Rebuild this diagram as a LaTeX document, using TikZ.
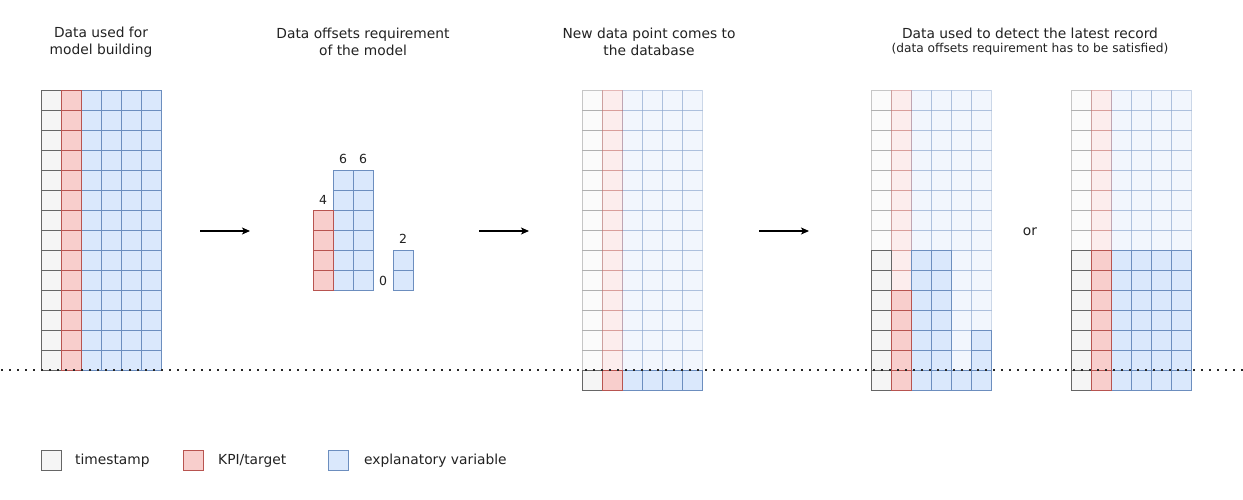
\documentclass[tikz,border=0pt]{standalone}
\usepackage{fontspec}
\setmainfont{DejaVu Sans}
\usetikzlibrary{arrows.meta}
\definecolor{tsfill}{HTML}{F5F5F5}
\definecolor{tsline}{HTML}{666666}
\definecolor{kpifill}{HTML}{F8CECC}
\definecolor{kpiline}{HTML}{B85450}
\definecolor{expfill}{HTML}{DAE8FC}
\definecolor{expline}{HTML}{6C8EBF}
\definecolor{txt}{HTML}{222222}
\tikzset{
  c0/.style={fill=tsfill,draw=tsline,line width=1pt},
  c1/.style={fill=kpifill,draw=kpiline,line width=1pt},
  c2/.style={fill=expfill,draw=expline,line width=1pt},
  c3/.style={c2}, c4/.style={c2}, c5/.style={c2},
  faded/.style={opacity=0.35},
  titletext/.style={font=\fontsize{13.8}{17.5}\selectfont, align=center, text=txt, inner sep=0pt},
  subtext/.style={font=\fontsize{12.2}{14}\selectfont, align=center, text=txt, inner sep=0pt},
  numtext/.style={font=\fontsize{12.5}{14}\selectfont, text=txt, inner sep=0pt},
  legtext/.style={font=\fontsize{13.8}{16}\selectfont, text=txt, anchor=west, inner sep=0pt},
  flow/.style={line width=1.1pt, -{Stealth[length=8pt,width=7pt,inset=2pt]}},
  baseline/.style={line width=1.4pt, draw=black!85, dash pattern=on 1.4pt off 6.6pt},
}
\begin{document}
\begin{tikzpicture}[x=1pt,y=-1pt]
\useasboundingbox[fill=white] (0,0) rectangle (1243,499);

% ---------- titles ----------
\node[titletext] (t1) at (101,42) {Data used for\\model building};
\node[titletext] (t2) at (363,42) {Data offsets requirement\\of the model};
\node[titletext] (t3) at (649,42) {New data point comes to\\the database};
\node[titletext] (t4) at (1030,33) {Data used to detect the latest record};
\node[subtext]   (t4b) at (1030,49.5) {(data offsets requirement has to be satisfied)};

% ---------- grid 1: model building ----------
\foreach \c in {0,2,3,4,5,1}{
  \foreach \r in {0,...,13}{
    \draw[c\c] ({41+20*\c},{90+20*\r}) rectangle +(20,20);
  }
}

% ---------- offsets ----------
\foreach \r in {0,...,5}{
  \draw[c2] (333,{170+20*\r}) rectangle +(20,20);
  \draw[c2] (353,{170+20*\r}) rectangle +(20,20);
}
\foreach \r in {0,...,3}{
  \draw[c1] (313,{210+20*\r}) rectangle +(20,20);
}
\foreach \r in {0,1}{
  \draw[c2] (393,{250+20*\r}) rectangle +(20,20);
}
\node[numtext] (n6a) at (343,159) {6};
\node[numtext] (n6b) at (363,159) {6};
\node[numtext] (n4)  at (323,200) {4};
\node[numtext] (n0)  at (383,281) {0};
\node[numtext] (n2)  at (403,239) {2};

% ---------- grid 3: new data point ----------
\foreach \c in {0,2,3,4,5,1}{
  \foreach \r in {0,...,13}{
    \draw[c\c,faded] ({582+20*\c},{90+20*\r}) rectangle +(20,20);
  }
}
\foreach \c in {0,2,3,4,5,1}{
  \draw[c\c] ({582+20*\c},370) rectangle +(20,20);
}

% ---------- grid 4: detect (variant a) ----------
\foreach \c in {0,2,3,4,5,1}{
  \foreach \r in {0,...,14}{
    \draw[c\c,faded] ({871+20*\c},{90+20*\r}) rectangle +(20,20);
  }
}
\foreach \c/\first in {0/8,2/8,3/8,4/14,5/12,1/10}{
  \foreach \r in {\first,...,14}{
    \draw[c\c] ({871+20*\c},{90+20*\r}) rectangle +(20,20);
  }
}

% ---------- grid 5: detect (variant b) ----------
\foreach \c in {0,2,3,4,5,1}{
  \foreach \r in {0,...,14}{
    \draw[c\c,faded] ({1071+20*\c},{90+20*\r}) rectangle +(20,20);
  }
}
\foreach \c in {0,2,3,4,5,1}{
  \foreach \r in {8,...,14}{
    \draw[c\c] ({1071+20*\c},{90+20*\r}) rectangle +(20,20);
  }
}
\node[titletext] (or) at (1030,232) {or};

% ---------- arrows ----------
\coordinate (a1s) at (200,231); \coordinate (a1e) at (250,231);
\coordinate (a2s) at (479,231); \coordinate (a2e) at (529,231);
\coordinate (a3s) at (759,231); \coordinate (a3e) at (809,231);
\draw[flow] (a1s) -- (a1e);
\draw[flow] (a2s) -- (a2e);
\draw[flow] (a3s) -- (a3e);

% ---------- dotted reference line ----------
\coordinate (ls) at (1.3,370); \coordinate (le) at (1243,370);
\draw[baseline] (ls) -- (le);

% ---------- legend ----------
\draw[c0] (41,450) rectangle +(20,20);
\node[legtext] (l1) at (75,461) {timestamp};
\draw[c1] (183,450) rectangle +(20,20);
\node[legtext] (l2) at (218,461) {KPI/target};
\draw[c2] (328,450) rectangle +(20,20);
\node[legtext] (l3) at (364,461) {explanatory variable};
\end{tikzpicture}
\end{document}
